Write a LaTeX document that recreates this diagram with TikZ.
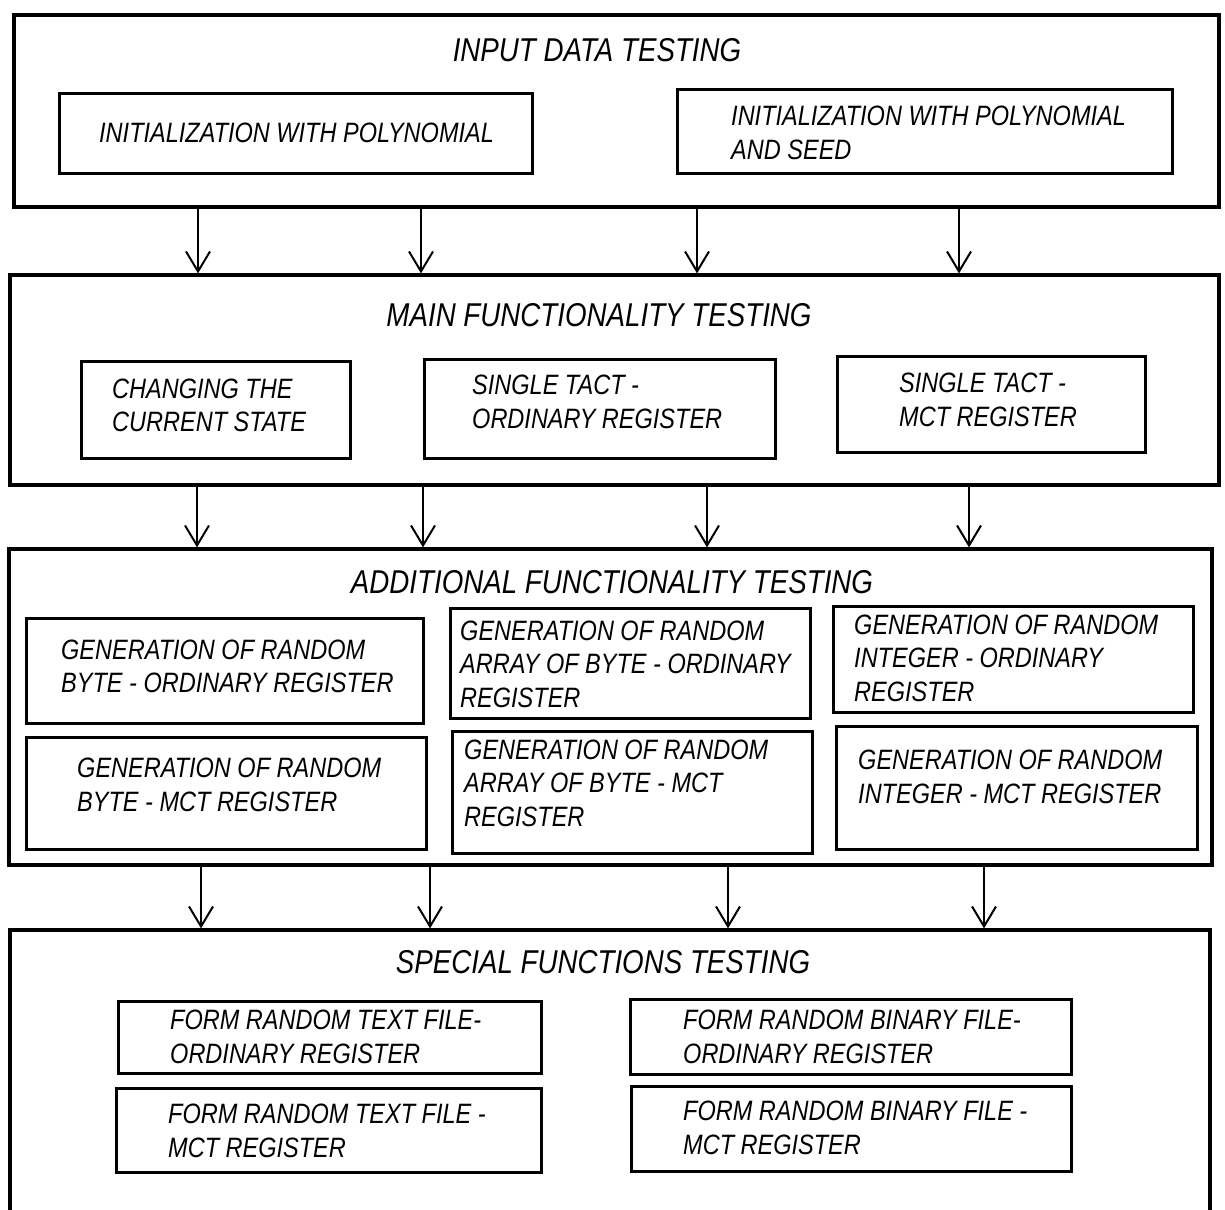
\documentclass[tikz,border=0pt]{standalone}
\usepackage{fontspec}
\newfontfamily\diafont{Liberation Sans}[FakeStretch=0.84]
\usetikzlibrary{arrows.meta}
\begin{document}
\begin{tikzpicture}[x=1pt,y=-1pt,
  outerbox/.style={draw, line width=3.2pt, inner sep=0pt},
  innerbox/.style={draw, line width=3pt, inner sep=0pt},
  boxtext/.style={anchor=west, inner sep=0pt, align=left, font=\diafont\itshape\fontsize{28}{33.5}\selectfont},
  titletext/.style={inner sep=0pt, font=\diafont\itshape\fontsize{33}{39}\selectfont},
  flow/.style={line width=2pt, -{Straight Barb[length=20pt,width=24pt]}}]
\useasboundingbox (0,0) rectangle (1225,1209);

% ---------- outer boxes ----------
\node[outerbox, minimum width=1205pt, minimum height=192pt] (input) at (616.5,111) {};
\node[outerbox, minimum width=1209pt, minimum height=210pt] (main) at (614.5,380) {};
\node[outerbox, minimum width=1203pt, minimum height=316pt] (add) at (610.5,707) {};
\node[outerbox, minimum width=1200pt, minimum height=284pt] (spec) at (610,1072) {};

% ---------- titles ----------
\node[titletext] (t1) at (597,50) {INPUT DATA TESTING};
\node[titletext] (t2) at (599,315) {MAIN FUNCTIONALITY TESTING};
\node[titletext] (t3) at (612,582) {ADDITIONAL FUNCTIONALITY TESTING};
\node[titletext] (t4) at (603,962) {SPECIAL FUNCTIONS TESTING};

% ---------- input data testing ----------
\node[innerbox, minimum width=473pt, minimum height=80pt] (a1) at (295.5,134) {};
\node[boxtext] (a1t) at (99,133) {INITIALIZATION WITH POLYNOMIAL};
\node[innerbox, minimum width=495pt, minimum height=84pt] (a2) at (924.5,132) {};
\node[boxtext] (a2t) at (731,133) {INITIALIZATION WITH POLYNOMIAL\\AND SEED};

% ---------- main functionality testing ----------
\node[innerbox, minimum width=269pt, minimum height=97pt] (b1) at (215.5,409.5) {};
\node[boxtext] (b1t) at (112,405.5) {CHANGING THE\\CURRENT STATE};
\node[innerbox, minimum width=351pt, minimum height=99pt] (b2) at (599.5,408.5) {};
\node[boxtext] (b2t) at (472,402) {SINGLE TACT -\\ORDINARY REGISTER};
\node[innerbox, minimum width=308pt, minimum height=96pt] (b3) at (991,404) {};
\node[boxtext] (b3t) at (899,400) {SINGLE TACT -\\MCT REGISTER};

% ---------- additional functionality testing ----------
\node[innerbox, minimum width=397pt, minimum height=105pt] (c1) at (224.5,670.5) {};
\node[boxtext] (c1t) at (61,666.5) {GENERATION OF RANDOM\\BYTE - ORDINARY REGISTER};
\node[innerbox, minimum width=400pt, minimum height=112pt] (c2) at (226,793) {};
\node[boxtext] (c2t) at (77,785) {GENERATION OF RANDOM\\BYTE - MCT REGISTER};
\node[innerbox, minimum width=360pt, minimum height=110pt] (c3) at (630,663) {};
\node[boxtext] (c3t) at (460,664) {GENERATION OF RANDOM\\ARRAY OF BYTE - ORDINARY\\REGISTER};
\node[innerbox, minimum width=360pt, minimum height=122pt] (c4) at (632,792) {};
\node[boxtext] (c4t) at (464,783) {GENERATION OF RANDOM\\ARRAY OF BYTE - MCT\\REGISTER};
\node[innerbox, minimum width=360pt, minimum height=106pt] (c5) at (1013,659) {};
\node[boxtext] (c5t) at (854,658) {GENERATION OF RANDOM\\INTEGER - ORDINARY\\REGISTER};
\node[innerbox, minimum width=361pt, minimum height=123pt] (c6) at (1016.5,787.5) {};
\node[boxtext] (c6t) at (858,777) {GENERATION OF RANDOM\\INTEGER - MCT REGISTER};

% ---------- special functions testing ----------
\node[innerbox, minimum width=423pt, minimum height=72pt] (d1) at (329.5,1037) {};
\node[boxtext] (d1t) at (170,1037) {FORM RANDOM TEXT FILE-\\ORDINARY REGISTER};
\node[innerbox, minimum width=425pt, minimum height=84pt] (d2) at (328.5,1130) {};
\node[boxtext] (d2t) at (168,1131) {FORM RANDOM TEXT FILE -\\MCT REGISTER};
\node[innerbox, minimum width=441pt, minimum height=75pt] (d3) at (850.5,1036.5) {};
\node[boxtext] (d3t) at (683,1037) {FORM RANDOM BINARY FILE-\\ORDINARY REGISTER};
\node[innerbox, minimum width=440pt, minimum height=85pt] (d4) at (851,1128.5) {};
\node[boxtext] (d4t) at (683,1128) {FORM RANDOM BINARY FILE -\\MCT REGISTER};

% ---------- connectors ----------
\foreach \xx in {198,421,697,959}
  \draw[flow] (\xx,0 |- input.south) -- (\xx,0 |- main.north);
\foreach \xx in {197,423,707,969}
  \draw[flow] (\xx,0 |- main.south) -- (\xx,0 |- add.north);
\foreach \xx in {201,430,728,984}
  \draw[flow] (\xx,0 |- add.south) -- (\xx,0 |- spec.north);
\end{tikzpicture}
\end{document}
